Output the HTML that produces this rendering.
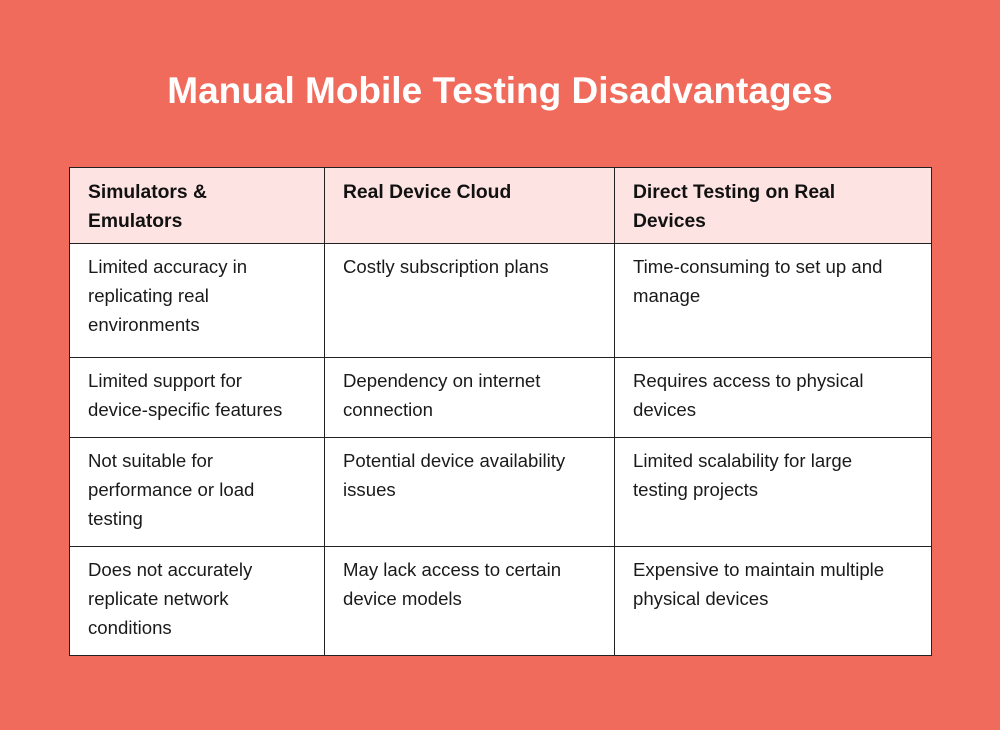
<!DOCTYPE html>
<html><head><meta charset="utf-8"><style>
body{margin:0;width:1000px;height:730px;background:#F06B5C;font-family:"Liberation Sans",sans-serif;position:relative;overflow:hidden}
h1{position:absolute;top:69px;left:0;width:1000px;margin:0;text-align:center;color:#fff;font-size:37px;font-weight:bold;line-height:44px}
table{position:absolute;left:69px;top:167px;border-collapse:collapse;background:#fff}
td{border:1px solid #222;vertical-align:top;padding:8px 10px 0 18px;font-size:18.6px;line-height:29px;color:#1a1a1a;box-sizing:border-box;white-space:nowrap}
tr.h td{background:#FDE3E1;font-weight:bold;font-size:19.3px;color:#111;padding-top:10px}
</style></head><body>
<h1>Manual Mobile Testing Disadvantages</h1>
<table>
<colgroup><col style="width:255px"><col style="width:290px"><col style="width:317px"></colgroup>
<tr class="h" style="height:76px"><td>Simulators &amp;<br>Emulators</td><td>Real Device Cloud</td><td>Direct Testing on Real<br>Devices</td></tr>
<tr style="height:114px"><td>Limited accuracy in<br>replicating real<br>environments</td><td>Costly subscription plans</td><td>Time-consuming to set up and<br>manage</td></tr>
<tr style="height:80px"><td>Limited support for<br>device-specific features</td><td>Dependency on internet<br>connection</td><td>Requires access to physical<br>devices</td></tr>
<tr style="height:109px"><td>Not suitable for<br>performance or load<br>testing</td><td>Potential device availability<br>issues</td><td>Limited scalability for large<br>testing projects</td></tr>
<tr style="height:109px"><td>Does not accurately<br>replicate network<br>conditions</td><td>May lack access to certain<br>device models</td><td>Expensive to maintain multiple<br>physical devices</td></tr>
</table>
</body></html>
